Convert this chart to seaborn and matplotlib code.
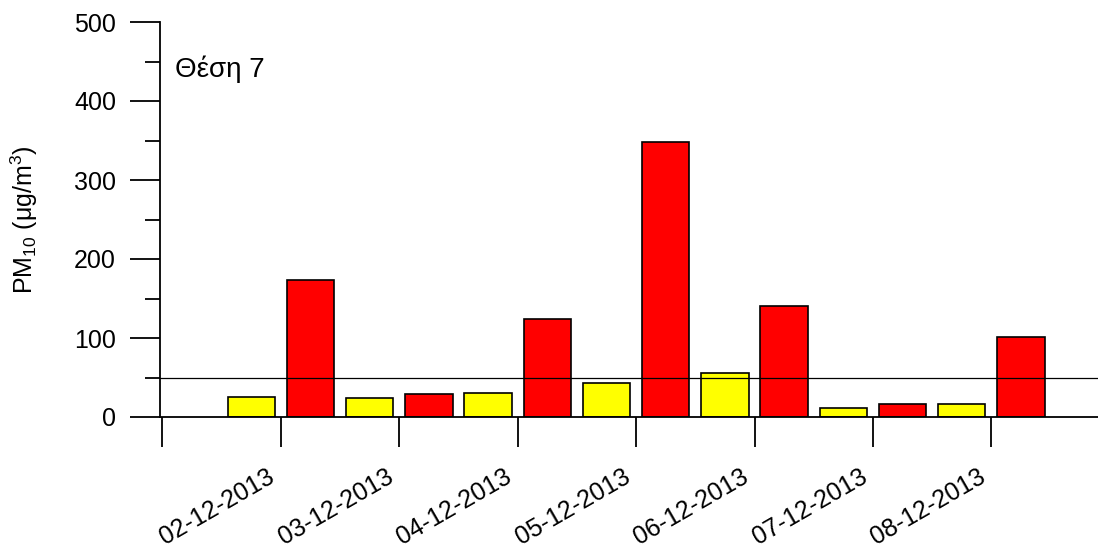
import matplotlib
matplotlib.use("Agg")
import matplotlib.pyplot as plt
import matplotlib.transforms as mtransforms
import seaborn as sns
import pandas as pd
from matplotlib.ticker import MultipleLocator

dates = ["02-12-2013", "03-12-2013", "04-12-2013", "05-12-2013",
         "06-12-2013", "07-12-2013", "08-12-2013"]
yellow_vals = [25, 24, 30, 43, 56, 11, 16]
red_vals = [173, 29, 124, 348, 140, 16, 101]
series = ["A", "B"]
limit_value = 50
site_label = "Θέση 7"

df = pd.DataFrame({
    "date": dates * 2,
    "value": yellow_vals + red_vals,
    "series": [series[0]] * len(dates) + [series[1]] * len(dates),
})

sns.set_style("white")
plt.rcParams["font.family"] = ["Liberation Sans", "DejaVu Sans"]
plt.rcParams["mathtext.fontset"] = "custom"
plt.rcParams["mathtext.rm"] = "Liberation Sans"
plt.rcParams["mathtext.it"] = "Liberation Sans:italic"
for key in ["text.color", "axes.labelcolor", "xtick.color", "ytick.color", "axes.edgecolor"]:
    plt.rcParams[key] = "black"

fig = plt.figure(figsize=(10.98, 5.55), dpi=100)
ax = fig.add_axes([160 / 1098, (555 - 417) / 555, (1098 - 160) / 1098, 395 / 555])

sns.barplot(data=df, x="date", y="value", hue="series", order=dates,
            hue_order=series, palette=["#FFFF00", "#FF0000"], saturation=1,
            width=1.0, gap=0.2, edgecolor="black", linewidth=1.2,
            legend=False, ax=ax, zorder=2)

ax.axhline(limit_value, color="black", linewidth=0.9, zorder=5)

ax.set_ylim(0, 500)
ax.set_xlim(-1.02, 6.9)
ax.yaxis.set_major_locator(MultipleLocator(100))
ax.yaxis.set_minor_locator(MultipleLocator(50))

ax.set_xticks(list(range(-1, len(dates))))
ax.set_xticklabels([""] + dates)

for s in ["top", "right"]:
    ax.spines[s].set_visible(False)
for s in ["left", "bottom"]:
    ax.spines[s].set_linewidth(1.3)
    ax.spines[s].set_color("black")

ax.tick_params(axis="y", which="major", direction="out", length=21.6, width=1.3,
               labelsize=18, pad=10, left=True, colors="black")
ax.tick_params(axis="y", which="minor", direction="out", length=10.8, width=1.3,
               left=True, colors="black")
ax.tick_params(axis="x", which="major", direction="out", length=21.6, width=1.3,
               labelsize=18, pad=16, bottom=True, colors="black")
ax.get_xticklines()[0].set_color("#808080")
offset = mtransforms.ScaledTranslation(-14 / 100, 5 / 100, fig.dpi_scale_trans)
for lbl in ax.get_xticklabels():
    lbl.set_rotation(30)
    lbl.set_ha("right")
    lbl.set_va("top")
    lbl.set_rotation_mode("anchor")
    lbl.set_transform(lbl.get_transform() + offset)

ax.set_xlabel("")
ax.set_ylabel("PM$_{10}$ (μg/m$^3$)", fontsize=18, color="black")
ax.yaxis.set_label_coords(-0.128, 0.5)

fig.text(175 / 1098, 1 - 77 / 555, site_label, fontsize=20, va="baseline",
         ha="left", color="black")

fig.savefig("out.png", dpi=100)
